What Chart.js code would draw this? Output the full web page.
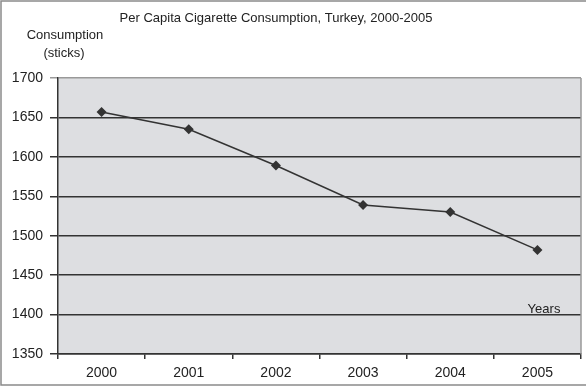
<!DOCTYPE html>
<html lang="en">
<head>
    <meta charset="UTF-8">
    <title>Per Capita Cigarette Consumption, Turkey, 2000-2005</title>
    <script src="https://cdn.jsdelivr.net/npm/chart.js"></script>
    <style>
        body { margin: 0; background: #fff; }
        #wrap { width: 586px; height: 388px; }
    </style>
</head>
<body>
    <div id="wrap"><canvas id="chart" width="586" height="388"></canvas></div>

    <script>
        const years = ['2000', '2001', '2002', '2003', '2004', '2005'];
        const consumption = [1657, 1635, 1589, 1539, 1530, 1482];
        const yMin = 1350, yMax = 1700, yStep = 50;
        const titleText = 'Per Capita Cigarette Consumption, Turkey, 2000-2005';
        const yTitle = ['Consumption', '(sticks)'];
        const xTitle = 'Years';

        const font = 'Arial, "Liberation Sans", sans-serif';
        const ink = '#222';

        // fond gris du graphique, cadre, textes
        const decor = {
            id: 'decor',
            beforeDraw(chart) {
                const { ctx, chartArea: a } = chart;
                ctx.save();
                ctx.fillStyle = '#dddee1';
                ctx.fillRect(a.left, a.top, a.right - a.left, a.bottom - a.top);
                ctx.strokeStyle = '#8a8a8a';
                ctx.lineWidth = 1.5;
                ctx.strokeRect(1, 1, 600, 384);
                ctx.restore();
            },
            afterDatasetsDraw(chart) {
                const { ctx, chartArea: a } = chart;
                ctx.save();
                ctx.strokeStyle = '#999';
                ctx.lineWidth = 1.5;
                ctx.beginPath();
                ctx.moveTo(a.right, a.top);
                ctx.lineTo(a.right, a.bottom);
                ctx.stroke();
                ctx.fillStyle = ink;
                ctx.font = '13px ' + font;
                ctx.textAlign = 'center';
                ctx.textBaseline = 'middle';
                ctx.fillText(titleText, 276, 18);
                ctx.fillText(yTitle[0], 65, 35);
                ctx.fillText(yTitle[1], 64, 53);
                ctx.fillText(xTitle, 544, 309);
                ctx.restore();
            }
        };

        new Chart(document.getElementById('chart'), {
            type: 'line',
            data: {
                labels: years,
                datasets: [{
                    data: consumption,
                    borderColor: '#333',
                    borderWidth: 1.5,
                    backgroundColor: '#333',
                    pointStyle: 'rectRot',
                    pointRadius: 5,
                    pointBorderWidth: 0,
                    tension: 0
                }]
            },
            options: {
                responsive: false,
                animation: false,
                layout: { padding: { top: 78, right: 3, left: 0, bottom: 0 } },
                plugins: { legend: { display: false }, tooltip: { enabled: false } },
                scales: {
                    x: {
                        offset: true,
                        grid: { offset: true, drawOnChartArea: false, drawTicks: true, tickLength: 5, color: '#333', lineWidth: 1.5 },
                        border: { color: '#333', width: 1.5 },
                        ticks: { color: ink, font: { family: font, size: 14 }, padding: 6, maxRotation: 0 },
                        afterFit(s) { s.height = 34; }
                    },
                    y: {
                        min: yMin,
                        max: yMax,
                        ticks: {
                            stepSize: yStep, color: ink, font: { family: font, size: 14 }, padding: 7,
                            callback: v => String(v)
                        },
                        grid: {
                            tickLength: 8,
                            lineWidth: 1.5,
                            color: c => c.tick && c.tick.value === yMax ? '#999' : '#333'
                        },
                        border: { color: '#333', width: 1.5 },
                        afterFit(s) { s.width = 58; }
                    }
                }
            },
            plugins: [decor]
        });
    </script>
</body>
</html>
